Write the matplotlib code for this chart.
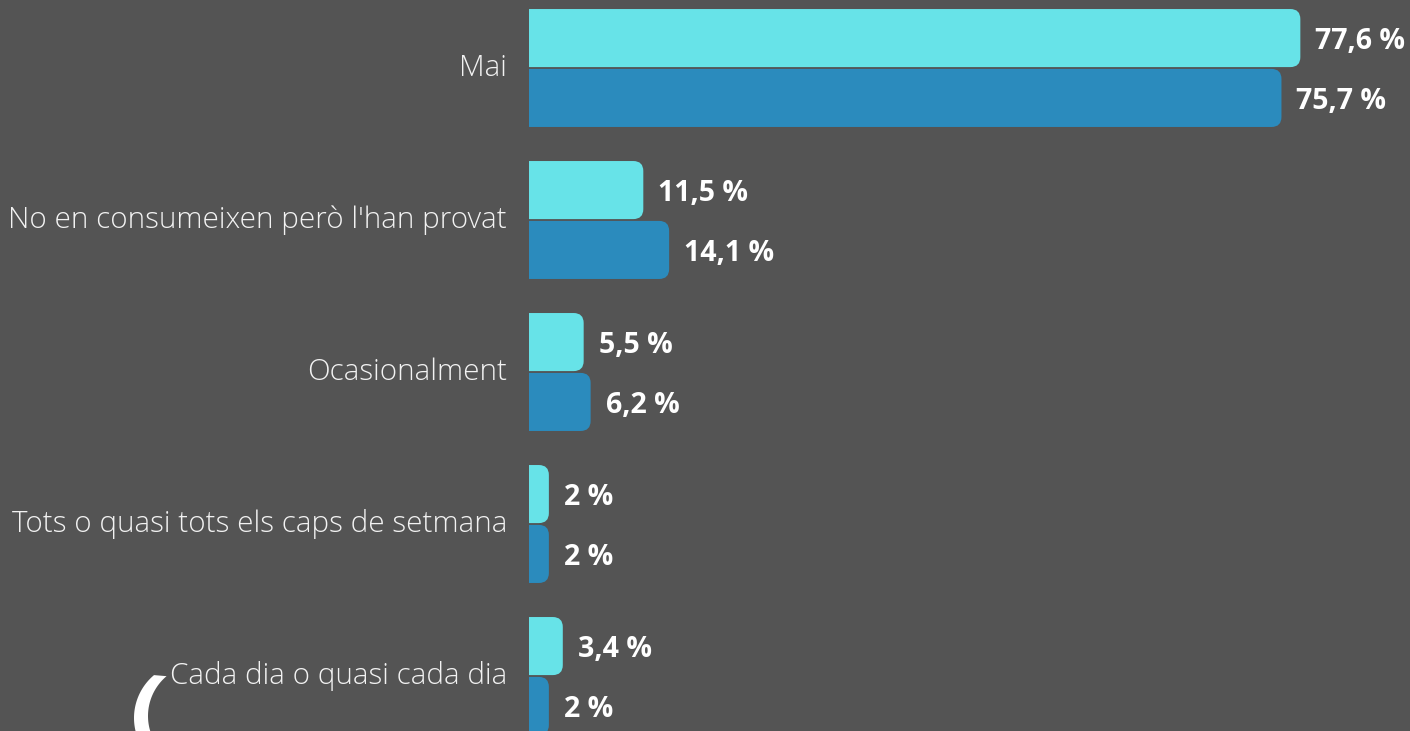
import numpy as np
import matplotlib
matplotlib.use("Agg")
import matplotlib.pyplot as plt
from matplotlib.patches import FancyBboxPatch, Polygon

# data
categories = ["Mai", "No en consumeixen però l'han provat", "Ocasionalment",
              "Tots o quasi tots els caps de setmana", "Cada dia o quasi cada dia"]
serie_a = [77.6, 11.5, 5.5, 2.0, 3.4]   # light cyan
serie_b = [75.7, 14.1, 6.2, 2.0, 2.0]   # blue
labels_a = ["77,6 %", "11,5 %", "5,5 %", "2 %", "3,4 %"]
labels_b = ["75,7 %", "14,1 %", "6,2 %", "2 %", "2 %"]

BG = "#545454"
CYAN = "#67e3e8"
BLUE = "#2b8bbd"

plt.rcParams['font.family'] = ['Open Sans', 'DejaVu Sans']

W, H = 1410, 731
fig = plt.figure(figsize=(W / 100, H / 100), dpi=100, facecolor=BG)

# bars axes: x zero at pixel 529, ~9.94 px per percent
x0_px = 529
px_per_pct = 9.94
ax = fig.add_axes([x0_px / W, 0, 1 - x0_px / W, 1])
ax.set_facecolor(BG)
ax.set_xlim(0, (W - x0_px) / px_per_pct)
# group centres at 68 + 152*i pixels
ax.set_ylim((H - 68) / 152, -68 / 152)
ax.axis('off')

bh = 0.382
off = 0.197
r_x = 10 / px_per_pct          # corner radius in x units
aspect = (10 / 152) / r_x      # y radius / x radius in data units

for i in range(len(categories)):
    for val, lab, col, dy in [(serie_a[i], labels_a[i], CYAN, -off),
                              (serie_b[i], labels_b[i], BLUE, off)]:
        yc = i + dy
        start = -3
        box = FancyBboxPatch((start, yc - bh / 2), val - start, bh,
                             boxstyle="round,pad=0,rounding_size=%f" % r_x,
                             mutation_aspect=aspect,
                             facecolor=col, edgecolor='none', clip_on=True)
        ax.add_patch(box)
        ax.text(val + 1.5, yc + 0.025, lab, color='white', fontsize=20.5,
                fontweight='bold', va='center', ha='left')

    ax.text(-22 / px_per_pct, i, categories[i], color='#f2f2f2', fontsize=21.3,
            fontweight='light', va='center', ha='right', clip_on=False)

# decorative crescent at the bottom-left
deco = fig.add_axes([0, 0, 1, 1], zorder=-1)
deco.set_xlim(0, W)
deco.set_ylim(H, 0)
deco.axis('off')
t_out = np.radians(np.linspace(130, 240, 60))
t_in = np.radians(np.linspace(240, 130, 60))
outer = np.c_[190 + 56 * np.cos(t_out), 718 - 56 * np.sin(t_out)]
inner = np.c_[200 + 52 * np.cos(t_in), 716 - 52 * np.sin(t_in)]
deco.add_patch(Polygon(np.vstack([outer, inner]), closed=True,
                       facecolor='white', edgecolor='none'))

fig.savefig("out.png", dpi=100, facecolor=BG)
